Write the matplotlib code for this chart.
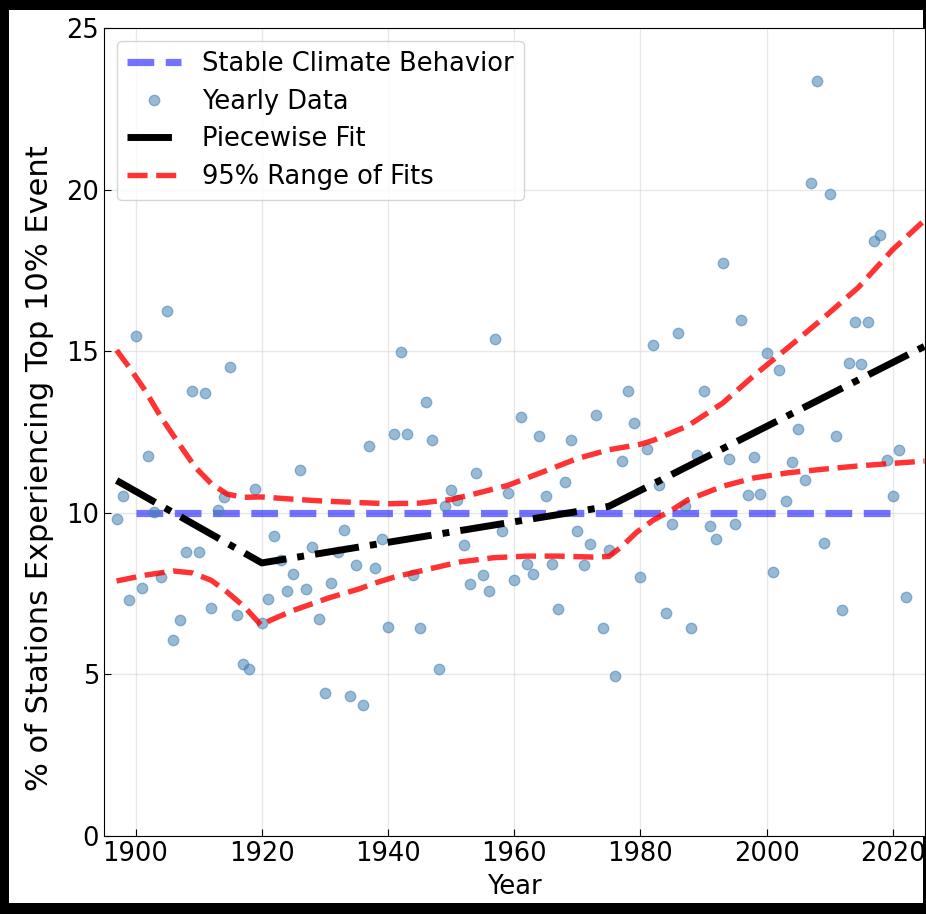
import matplotlib
matplotlib.use("Agg")
import matplotlib.pyplot as plt
from matplotlib.patches import Rectangle

# yearly share of stations with a top-10% event
years = list(range(1897, 2023))
pct = [9.82, 10.51, 7.29, 15.47, 7.68, 11.77, 10.02, 8.01, 16.24, 6.05,   # 1897-1906
       6.67, 8.79, 13.76, 8.79, 13.72, 7.04, 10.08, 10.49, 14.5, 6.85,     # 1907-1916
       5.33, 5.17, 10.75, 6.59, 7.32, 9.28, 8.55, 7.57, 8.11, 11.32,       # 1917-1926
       7.65, 8.94, 6.72, 4.43, 7.82, 8.8, 9.46, 4.32, 8.38, 4.04,          # 1927-1936
       12.06, 8.29, 9.2, 6.46, 12.45, 14.98, 12.45, 8.07, 6.43, 13.43,     # 1937-1946
       12.24, 5.16, 10.21, 10.7, 10.41, 8.99, 7.81, 11.24, 8.07, 7.57,     # 1947-1956
       15.39, 9.43, 10.61, 7.93, 12.95, 8.42, 8.1, 12.37, 10.51, 8.42,     # 1957-1966
       7.03, 10.95, 12.24, 9.43, 8.39, 9.02, 13.03, 6.43, 8.84, 4.96,      # 1967-1976
       11.6, 13.76, 12.78, 8.01, 11.96, 15.2, 10.85, 6.9, 9.65, 15.57,     # 1977-1986
       10.2, 6.45, 11.8, 13.76, 9.6, 9.2, 17.73, 11.66, 9.64, 15.95,       # 1987-1996
       10.54, 11.74, 10.58, 14.95, 8.18, 14.43, 10.37, 11.58, 12.58, 11.0, # 1997-2006
       20.2, 23.35, 9.08, 19.87, 12.37, 6.98, 14.64, 15.9, 14.6, 15.9,     # 2007-2016
       18.42, 18.59, 11.63, 10.51, 11.94, 7.39]                            # 2017-2022

# stable climate reference
stable_years = [1900, 2020]
stable_level = 10

# piecewise fit knots
fit_years = [1897, 1920, 1975, 2025]
fit_vals = [11.0, 8.45, 10.2, 15.15]

# 95% range of fits
upper_years = [1897, 1899, 1901.5, 1904, 1907, 1909.5, 1912, 1914.5, 1917, 1920,
               1925, 1930, 1935, 1940, 1945, 1950, 1954, 1959, 1965, 1970,
               1975, 1980, 1982, 1987.5, 1993, 1998, 2003, 2009, 2014.5, 2020, 2025]
upper_vals = [15.03, 14.5, 13.79, 12.97, 12.1, 11.4, 10.9, 10.58, 10.48, 10.49,
              10.42, 10.36, 10.32, 10.28, 10.3, 10.41, 10.6, 10.85, 11.3, 11.68,
              11.95, 12.12, 12.24, 12.69, 13.39, 14.25, 15.05, 16.03, 16.97, 18.15, 19.05]
lower_years = [1897, 1901.5, 1906, 1909, 1912, 1914.5, 1917.3, 1920, 1921.3, 1925,
               1930.5, 1935.5, 1938, 1941, 1946, 1951.4, 1956.7, 1962, 1967, 1972.5,
               1975, 1977, 1979.4, 1982, 1985, 1987.5, 1993, 1998, 2003.5, 2009,
               2014.5, 2020, 2025]
lower_vals = [7.89, 8.07, 8.2, 8.14, 7.91, 7.55, 7.08, 6.5, 6.67, 6.98,
              7.36, 7.65, 7.83, 8.01, 8.24, 8.48, 8.61, 8.66, 8.66, 8.63,
              8.65, 8.95, 9.4, 9.77, 10.09, 10.4, 10.82, 11.08, 11.24, 11.35,
              11.45, 11.53, 11.6]

FS = 18.5

fig = plt.figure(figsize=(9.26, 9.14), dpi=100, facecolor="black")
# white sheet inside the black screenshot border
fig.patches.append(Rectangle((9 / 926, 11 / 914), (923 - 9) / 926, (904 - 11) / 914,
                             transform=fig.transFigure, facecolor="white",
                             edgecolor="none", zorder=-1))
ax = fig.add_axes([104 / 926, (914 - 836) / 914, (924.5 - 104) / 926, (836 - 28) / 914])

ax.plot(stable_years, [stable_level, stable_level], "--", color="blue", alpha=0.55,
        lw=5.2, label="Stable Climate Behavior")
ax.plot(years, pct, "o", color="steelblue", alpha=0.55, ms=7.5, label="Yearly Data")
ax.plot(fit_years, fit_vals, "-.", color="black", lw=5, label="Piecewise Fit")
ax.plot(upper_years, upper_vals, "--", color="red", alpha=0.8, lw=3.9,
        label="95% Range of Fits")
ax.plot(lower_years, lower_vals, "--", color="red", alpha=0.8, lw=3.9)

ax.set_xlim(1895, 2025)
ax.set_ylim(0, 25)
ax.set_xticks([1900, 1920, 1940, 1960, 1980, 2000, 2020])
ax.set_yticks([0, 5, 10, 15, 20, 25])
ax.tick_params(direction="in", labelsize=FS, length=5)
ax.grid(True, color="lightgray", alpha=0.5, lw=1)
ax.set_axisbelow(True)
ax.set_xlabel("Year", fontsize=FS, labelpad=5)
ax.set_ylabel("% of Stations Experiencing Top 10% Event", fontsize=22)
ax.yaxis.set_label_coords(-0.061, 0.455)

ax.legend(loc="upper left", fontsize=FS, handlelength=2.1, labelspacing=0.45,
          borderaxespad=0.5)

fig.savefig("out.png", dpi=100, facecolor=fig.get_facecolor())
